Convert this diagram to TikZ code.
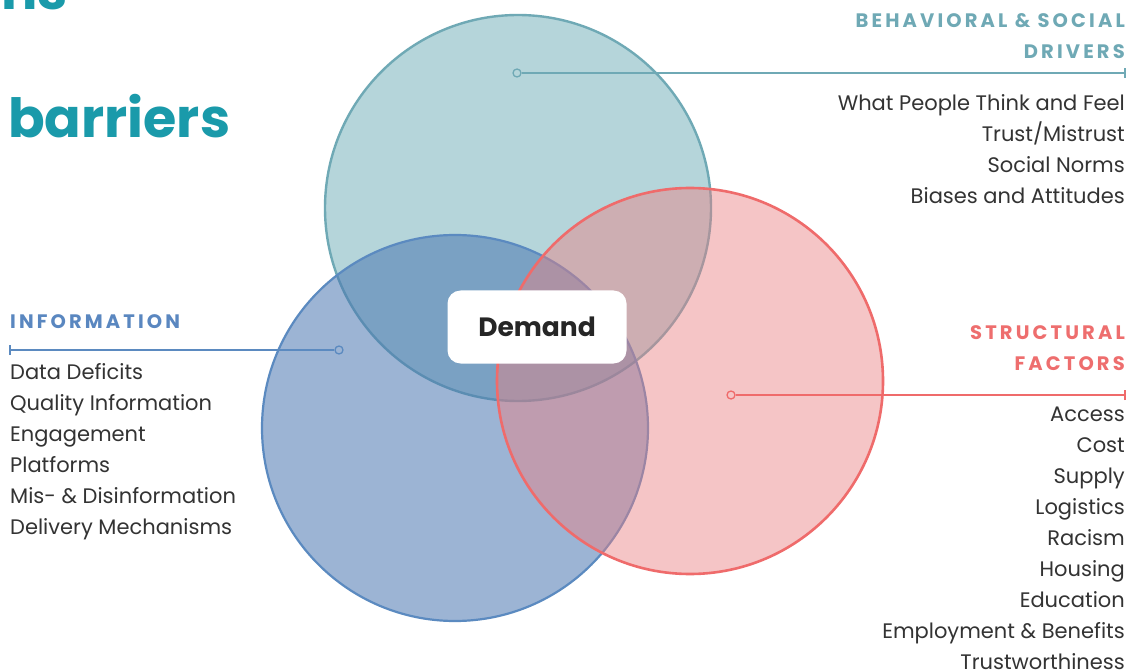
\documentclass[tikz,border=0pt]{standalone}
\usepackage{fontspec}
\setmainfont{Poppins}
\newfontfamily\hdfont[LetterSpace=16]{Poppins}
\definecolor{tealfill}{RGB}{181,213,218}
\definecolor{tealline}{RGB}{111,169,181}
\definecolor{bluefill}{RGB}{75,119,177}
\definecolor{blueline}{RGB}{91,138,192}
\definecolor{redfill}{RGB}{235,128,130}
\definecolor{redline}{RGB}{239,107,107}
\definecolor{titlecol}{RGB}{26,154,170}
\definecolor{bodycol}{RGB}{51,51,51}
\definecolor{bluehd}{RGB}{90,135,192}
\definecolor{redhd}{RGB}{238,110,110}
\definecolor{tealhd}{RGB}{111,169,181}
\tikzset{
  bodytext/.style={font=\fontsize{21}{21}\selectfont, text=bodycol, inner sep=0pt},
  hdtext/.style={font=\hdfont\bfseries\fontsize{19.5}{19.5}\selectfont, inner sep=0pt},
  marker/.style={circle, draw, line width=1.3pt, minimum size=8pt, inner sep=0pt},
  leader/.style={line width=1.3pt},
}
\begin{document}
\begin{tikzpicture}[x=1pt,y=-1pt]
\useasboundingbox (0,0) rectangle (1144,671);
\clip (0,0) rectangle (1144,671);
\fill[white] (0,0) rectangle (1144,671);
% circles
\fill[tealfill] (518,208) circle[radius=193pt];
\draw[tealline, line width=2.4pt] (518,208) circle[radius=193pt];
\fill[bluefill, fill opacity=0.55] (455,428) circle[radius=193pt];
\draw[blueline, line width=2.2pt] (455,428) circle[radius=193pt];
\fill[redfill, fill opacity=0.45] (690,381) circle[radius=193pt];
\draw[redline, line width=2.6pt] (690,381) circle[radius=193pt];
% title
\node[anchor=base west, inner sep=0pt, text=titlecol, font=\bfseries\fontsize{54}{54}\selectfont] (ttop) at (1,10) {ns};
\node[anchor=base west, inner sep=0pt, text=titlecol, font=\bfseries\fontsize{54}{54}\selectfont] (title) at (8,138) {barriers};
% markers and leaders
\node[marker, tealline] (mt) at (517,73) {};
\coordinate (et) at (1125,73);
\draw[leader, tealline] (mt) -- (et);
\draw[leader, tealline] ([yshift=-5pt]et) -- ([yshift=5pt]et);
\node[marker, blueline] (mb) at (339,350) {};
\coordinate (eb) at (10,350);
\draw[leader, blueline] (mb) -- (eb);
\draw[leader, blueline] ([yshift=-5pt]eb) -- ([yshift=5pt]eb);
\node[marker, redline] (mr) at (731,395) {};
\coordinate (er) at (1125,395);
\draw[leader, redline] (mr) -- (er);
\draw[leader, redline] ([yshift=-5pt]er) -- ([yshift=5pt]er);
% Demand
\node[fill=white, rounded corners=13pt, minimum width=179pt, minimum height=73pt, font=\bfseries\fontsize{26.5}{26.5}\selectfont, text=black!85] (demand) at (537,327) {Demand};
% headers
\node[hdtext, text=tealhd, anchor=base east] (h1) at (1125,28) {BEHAVIORAL \& SOCIAL};
\node[hdtext, text=tealhd, anchor=base east] (h2) at (1125,59) {DRIVERS};
\node[hdtext, text=bluehd, anchor=base west] (h3) at (10,329) {INFORMATION};
\node[hdtext, text=redhd, anchor=base east] (h4) at (1125,339) {STRUCTURAL};
\node[hdtext, text=redhd, anchor=base east] (h5) at (1125,370) {FACTORS};
% behavioral items
\foreach \t [count=\i from 0] in {What People Think and Feel, Trust/Mistrust, Social Norms, Biases and Attitudes}
  \node[bodytext, anchor=base east] (b\i) at (1125,111+31*\i) {\t};
% information items
\foreach \t [count=\i from 0] in {Data Deficits, Quality Information, Engagement, Platforms, Mis- \& Disinformation, Delivery Mechanisms}
  \node[bodytext, anchor=base west] (n\i) at (10,379+31*\i) {\t};
% structural items
\foreach \t [count=\i from 0] in {Access, Cost, Supply, Logistics, Racism, Housing, Education, Employment \& Benefits, Trustworthiness}
  \node[bodytext, anchor=base east] (s\i) at (1125,421+31*\i) {\t};
\end{tikzpicture}
\end{document}
